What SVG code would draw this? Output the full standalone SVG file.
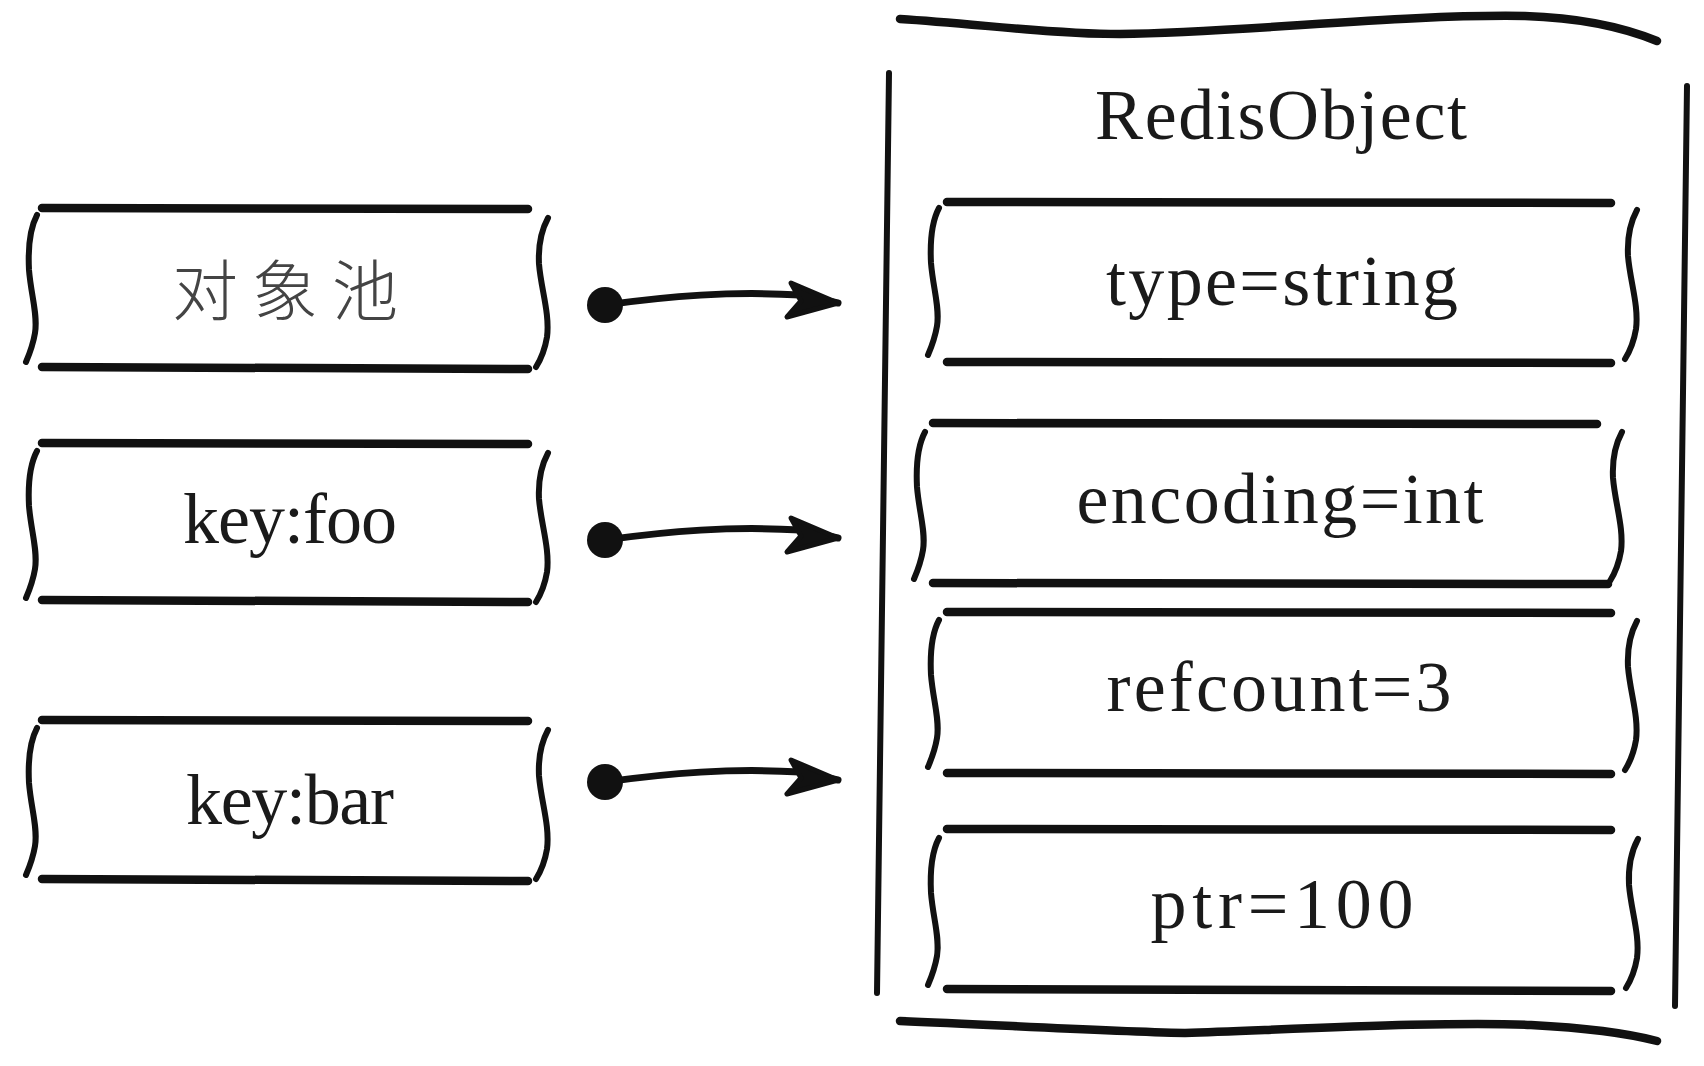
<svg xmlns="http://www.w3.org/2000/svg" xmlns:xlink="http://www.w3.org/1999/xlink" width="1704" height="1066" viewBox="0 0 1704 1066">
<style>
.h{stroke:#111;stroke-width:8.5;stroke-linecap:round;fill:none}
.v{stroke:#111;stroke-width:6;stroke-linecap:round;fill:none}
.w{stroke:#111;stroke-width:8.5;stroke-linecap:round;fill:none}
.t{font-family:"Liberation Serif","Times New Roman",serif;font-size:72px;fill:#1a1a1a;text-anchor:middle}
.cn{font-family:"Noto Sans CJK SC","Noto Sans CJK TC",sans-serif;font-size:66px;fill:#444;text-anchor:middle;font-weight:300}
.c{stroke:#111;stroke-width:7;stroke-linecap:round;fill:none}
</style>
<defs>
<path id="lb" class="v" d="M 0,0 C -8,15 -9,35 -8,55 C -6,80 1,100 -2,118 C -4,130 -8,140 -11,147"/>
<path id="rb" class="v" d="M 0,0 C -6,11 -10,26 -9,46 C -7,71 2,96 -1,119 C -3,131 -7,141 -12,149"/>
<marker id="dot" markerUnits="userSpaceOnUse" markerWidth="1" markerHeight="1" refX="0" refY="0" overflow="visible" orient="0">
<circle cx="0" cy="0" r="18" fill="#111"/>
</marker>
<marker id="head" markerUnits="userSpaceOnUse" markerWidth="1" markerHeight="1" refX="0" refY="0" overflow="visible" orient="0">
<path d="M 0,0 L -47,-20 L -37,-2 L -51,14 Z" fill="#111" stroke="#111" stroke-width="5" stroke-linejoin="round"/>
</marker>
</defs>

<g id="node-pool">
<line class="h" x1="42" y1="208" x2="528" y2="209"/>
<line class="h" x1="42" y1="367" x2="528" y2="369"/>
<use xlink:href="#lb" x="37" y="215"/>
<use xlink:href="#rb" x="548" y="218"/>
<text class="cn" x="292" y="315" letter-spacing="14">对象池</text>
</g>

<g id="node-keyfoo">
<line class="h" x1="42" y1="443" x2="528" y2="444"/>
<line class="h" x1="42" y1="600" x2="528" y2="602"/>
<use xlink:href="#lb" x="37" y="451"/>
<use xlink:href="#rb" x="548" y="453"/>
<text class="t" x="290" y="543" textLength="214">key:foo</text>
</g>

<g id="node-keybar">
<line class="h" x1="42" y1="720" x2="528" y2="721"/>
<line class="h" x1="42" y1="879" x2="528" y2="881"/>
<use xlink:href="#lb" x="37" y="728"/>
<use xlink:href="#rb" x="548" y="730"/>
<text class="t" x="290" y="824" textLength="208">key:bar</text>
</g>

<g id="node-redisobject">
<path class="w" d="M 900,19 C 980,24 1050,34 1120,34 C 1250,32 1400,14 1525,16 C 1590,18 1630,30 1657,41"/>
<path class="w" d="M 900,1021 C 1000,1025 1100,1031 1185,1033 C 1300,1029 1450,1021 1531,1025 C 1590,1028 1630,1034 1657,1041"/>
<line class="v" x1="889" y1="73" x2="877" y2="993"/>
<line class="v" x1="1687" y1="86" x2="1675" y2="1006"/>
<text class="t" x="1281" y="139" textLength="372">RedisObject</text>

<g id="field-type">
<line class="h" x1="947" y1="202" x2="1611" y2="203"/>
<line class="h" x1="947" y1="362" x2="1611" y2="363"/>
<use xlink:href="#lb" x="939" y="208"/>
<use xlink:href="#rb" x="1637" y="210"/>
<text class="t" x="1282" y="305" textLength="352">type=string</text>
</g>

<g id="field-encoding">
<line class="h" x1="933" y1="423" x2="1597" y2="424"/>
<line class="h" x1="933" y1="583" x2="1608" y2="584"/>
<use xlink:href="#lb" x="925" y="432"/>
<use xlink:href="#rb" x="1622" y="432"/>
<text class="t" x="1280" y="523" textLength="407">encoding=int</text>
</g>

<g id="field-refcount">
<line class="h" x1="947" y1="612" x2="1611" y2="613"/>
<line class="h" x1="947" y1="773" x2="1611" y2="774"/>
<use xlink:href="#lb" x="939" y="620"/>
<use xlink:href="#rb" x="1637" y="621"/>
<text class="t" x="1279" y="711" textLength="345">refcount=3</text>
</g>

<g id="field-ptr">
<line class="h" x1="947" y1="829" x2="1611" y2="830"/>
<line class="h" x1="947" y1="989" x2="1611" y2="991"/>
<use xlink:href="#lb" x="939" y="838"/>
<use xlink:href="#rb" x="1638" y="839"/>
<text class="t" x="1282" y="928" font-size="78" textLength="263">ptr=100</text>
</g>
</g>

<g id="connectors">
<path class="c" marker-start="url(#dot)" marker-end="url(#head)" d="M 605,305 C 670,296 730,291 800,295 L 838,303"/>
<path class="c" marker-start="url(#dot)" marker-end="url(#head)" d="M 605,540 C 670,531 730,526 800,530 L 838,538"/>
<path class="c" marker-start="url(#dot)" marker-end="url(#head)" d="M 605,782 C 670,773 730,768 800,772 L 838,780"/>
</g>
</svg>
